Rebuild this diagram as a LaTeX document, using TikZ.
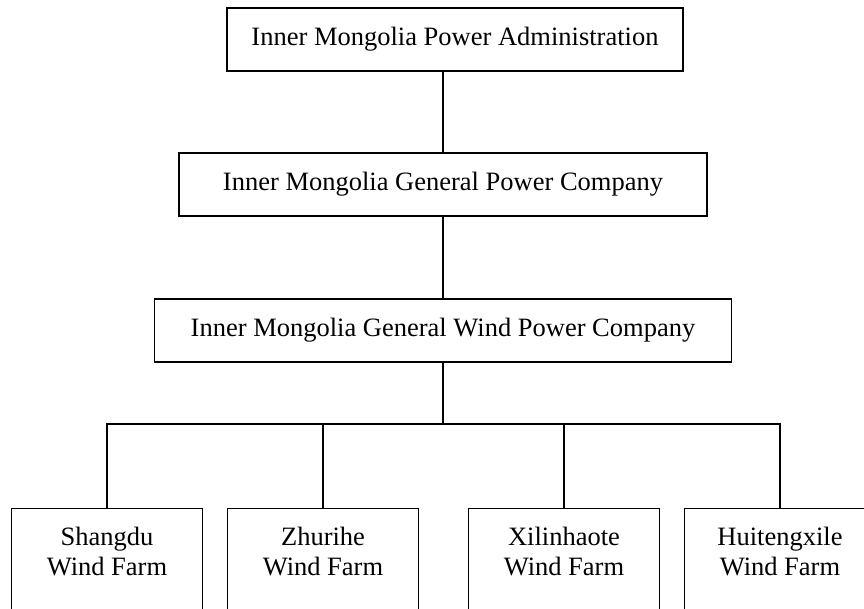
\documentclass[tikz,border=0pt]{standalone}
\usepackage{fontspec}
\setmainfont{Liberation Serif}
\begin{document}
\begin{tikzpicture}[x=1pt,y=-1pt,line width=1.4pt,
  txt/.style={font=\fontsize{26.5}{30}\selectfont},
  orgbox/.style={draw,txt,minimum height=63pt,inner sep=0pt},
  farmbox/.style={draw,anchor=north,minimum width=191pt,minimum height=140pt,inner sep=0pt},
  farmtext/.style={txt,anchor=north,align=center,inner sep=0pt,yshift=-18pt}]
\useasboundingbox (0,0) rectangle (864,609);
\node[orgbox,minimum width=456pt] (b1) at (455,39.5) {Inner Mongolia Power Administration};
\node[orgbox,minimum width=528pt] (b2) at (443,184.5) {Inner Mongolia General Power Company};
\node[orgbox,minimum width=577pt] (b3) at (443,330.5) {Inner Mongolia General Wind Power Company};
\coordinate (hub) at (443,424);
\node[farmbox,label={[farmtext]north:Shangdu\\Wind Farm}] (f1) at (107,508) {};
\node[farmbox,label={[farmtext]north:Zhurihe\\Wind Farm}] (f2) at (323,508) {};
\node[farmbox,label={[farmtext]north:Xilinhaote\\Wind Farm}] (f3) at (564,508) {};
\node[farmbox,label={[farmtext]north:Huitengxile\\Wind Farm}] (f4) at (780,508) {};
\draw (b2.north) -- (b2.north |- b1.south);
\draw (b3.north) -- (b3.north |- b2.south);
\draw (b3.south) -- (hub);
\draw (f1.north) -- (f1.north |- hub) -- (f4.north |- hub) -- (f4.north);
\draw (f2.north) -- (f2.north |- hub);
\draw (f3.north) -- (f3.north |- hub);
\end{tikzpicture}
\end{document}
